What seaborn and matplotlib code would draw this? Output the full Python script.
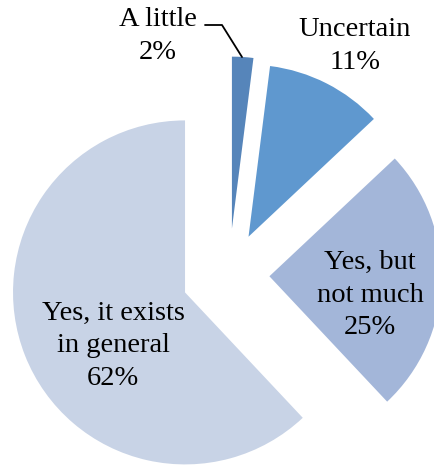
import matplotlib
matplotlib.use("Agg")
import matplotlib.pyplot as plt
import seaborn as sns

# ---- data ----
categories = ["A little", "Uncertain", "Yes, but\nnot much", "Yes, it exists\nin general"]
values = [2, 11, 25, 62]
pct_labels = ["2%", "11%", "25%", "62%"]
colors = ["#5685BA", "#5F98CF", "#A3B6D9", "#C8D3E6"]

sns.set_theme(style="white")
plt.rcParams["font.family"] = ["Liberation Serif", "DejaVu Serif"]

W, H = 435, 466
fig = plt.figure(figsize=(W / 100, H / 100), dpi=100)
ax = fig.add_axes([0, 0, 1, 1])

R_PX = 172.0
CX, CY = 229.0, 275.0

def px(x, y):
    return (x - CX) / R_PX, (CY - y) / R_PX

ax.pie(values, colors=colors, startangle=90, counterclock=False,
       explode=[0.27, 0.25, 0.235, 0.275], radius=1.0,
       wedgeprops=dict(linewidth=0))

ax.set_xlim((0 - CX) / R_PX, (W - CX) / R_PX)
ax.set_ylim((CY - H) / R_PX, CY / R_PX)
ax.set_aspect("equal")
ax.axis("off")

label_pos = [(158, 36), (355, 46), (370, 295), (113, 346)]
for cat, pct, (lx, ly) in zip(categories, pct_labels, label_pos):
    x, y = px(lx, ly)
    ax.text(x, y, f"{cat}\n{pct}", ha="center", va="center",
            fontsize=20.5, linespacing=1.4, color="black")

# leader line for the small slice
lx, ly = zip(*[px(205, 25), px(222, 25), px(242, 57)])
ax.plot(lx, ly, color="black", linewidth=1.3)

fig.savefig("out.png", dpi=100)
